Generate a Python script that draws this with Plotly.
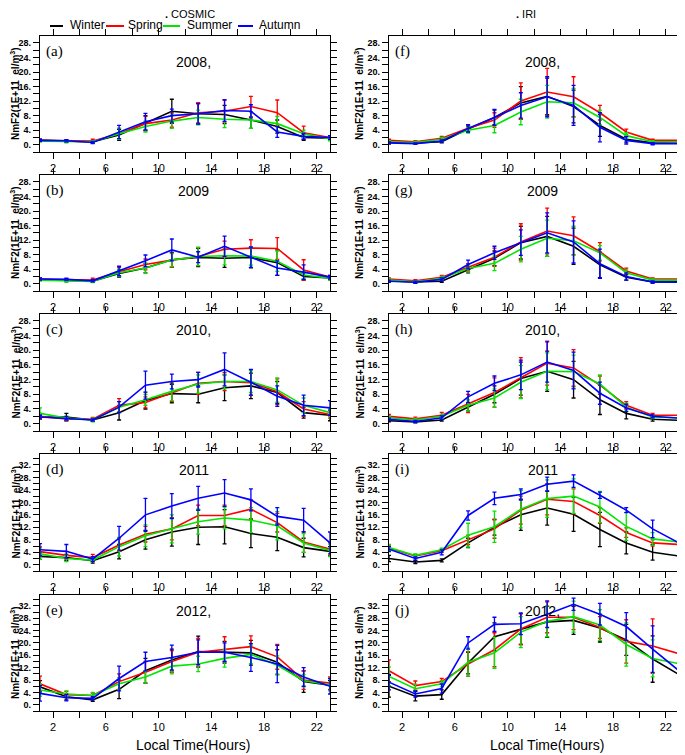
"""NmF2 diurnal variation by season, COSMIC vs IRI, 2008-2012"""

import plotly.graph_objects as go

hours = [1, 3, 5, 7, 9, 11, 13, 15, 17, 19, 21, 23]
seasons = ['Winter', 'Spring', 'Summer', 'Autumn']
colors = ['#000000', '#ff0000', '#00e600', '#0000ff']
panel_letters = ['(a)', '(b)', '(c)', '(d)', '(e)', '(f)', '(g)', '(h)', '(i)', '(j)']
year_labels = ['2008,', '2009', '2010,', '2011', '2012,', '2008,', '2009', '2010,', '2011', '2012,']

# ---- COSMIC ----
# (a) 2008
a_win = [1.2, 1.0, 0.8, 2.7, 6.0, 9.2, 8.5, 8.3, 6.8, 5.0, 2.0, 1.8]
a_spr = [1.2, 1.0, 1.0, 3.0, 5.8, 6.8, 8.8, 9.2, 10.5, 8.8, 3.3, 2.0]
a_sum = [1.0, 0.8, 0.8, 3.0, 5.0, 6.5, 7.5, 7.0, 6.8, 5.8, 3.0, 1.6]
a_aut = [1.2, 1.1, 0.6, 3.5, 6.3, 8.0, 8.5, 9.4, 9.2, 3.5, 2.3, 2.0]
a_win_err = [0.3, 0.3, 0.3, 1.5, 2.0, 3.3, 2.8, 2.5, 2.3, 1.8, 0.8, 0.5]
a_spr_err = [0.3, 0.3, 0.5, 1.5, 2.0, 2.0, 2.8, 3.0, 2.8, 3.5, 1.8, 0.5]
a_sum_err = [0.3, 0.3, 0.3, 1.5, 1.5, 2.0, 2.0, 2.3, 2.3, 2.0, 1.0, 0.5]
a_aut_err = [0.3, 0.3, 0.3, 1.8, 2.3, 1.8, 2.8, 3.0, 1.8, 1.5, 0.8, 0.5]

# (b) 2009
b_win = [1.2, 1.0, 0.7, 2.8, 4.3, 6.6, 7.2, 7.0, 7.2, 5.8, 2.0, 1.6]
b_spr = [1.2, 1.0, 1.0, 3.3, 5.3, 6.5, 7.5, 9.5, 9.8, 9.7, 3.8, 1.8]
b_sum = [1.0, 0.7, 0.6, 3.0, 4.3, 6.5, 7.5, 7.7, 7.6, 6.2, 2.4, 1.5]
b_aut = [1.3, 1.2, 0.8, 3.5, 6.3, 9.3, 7.3, 10.3, 7.3, 4.3, 3.2, 1.8]
b_win_err = [0.3, 0.3, 0.3, 1.0, 1.3, 2.0, 2.5, 2.5, 2.8, 3.5, 1.0, 0.5]
b_spr_err = [0.3, 0.3, 0.5, 1.2, 1.5, 2.0, 2.5, 2.2, 2.3, 3.0, 2.8, 0.5]
b_sum_err = [0.3, 0.3, 0.3, 1.0, 1.3, 1.8, 2.5, 2.5, 2.5, 2.8, 1.0, 0.5]
b_aut_err = [0.3, 0.3, 0.3, 1.3, 1.6, 3.0, 1.5, 2.8, 2.8, 2.0, 2.0, 0.5]

# (c) 2010
c_win = [1.8, 1.8, 1.0, 3.0, 6.3, 8.2, 8.0, 9.8, 10.3, 8.5, 3.0, 2.3]
c_spr = [2.0, 1.3, 1.2, 5.0, 5.8, 8.5, 11.0, 11.5, 11.2, 8.7, 4.0, 2.5]
c_sum = [2.8, 1.5, 1.0, 4.5, 6.5, 8.8, 10.8, 11.5, 11.5, 9.2, 5.0, 3.0]
c_aut = [1.8, 1.5, 1.0, 4.5, 10.5, 11.5, 12.0, 14.8, 11.3, 7.5, 5.0, 4.3]
c_win_err = [0.5, 1.0, 0.3, 2.0, 2.3, 2.5, 2.3, 3.5, 3.5, 3.0, 1.5, 1.5]
c_spr_err = [0.8, 0.5, 0.5, 1.8, 1.5, 2.5, 3.0, 2.5, 3.5, 3.5, 2.0, 1.0]
c_sum_err = [1.5, 0.5, 0.5, 1.5, 1.5, 2.5, 2.5, 2.0, 3.0, 3.3, 2.0, 1.0]
c_aut_err = [0.5, 0.5, 0.3, 1.5, 3.8, 2.0, 2.0, 4.5, 3.5, 2.8, 2.8, 2.0]

# (d) 2011
d_win = [2.7, 2.3, 1.3, 4.2, 8.0, 10.5, 12.0, 12.2, 10.0, 8.8, 5.5, 4.3]
d_spr = [4.2, 3.0, 2.3, 6.3, 9.8, 11.5, 15.8, 15.8, 17.8, 13.5, 7.3, 5.0]
d_sum = [3.5, 2.0, 1.5, 5.8, 9.3, 11.5, 13.8, 15.0, 14.3, 12.5, 7.0, 4.6]
d_aut = [4.8, 4.3, 1.8, 8.5, 16.0, 18.8, 21.3, 23.0, 20.8, 15.5, 14.3, 7.0]
d_win_err = [1.0, 1.0, 0.8, 2.3, 3.0, 4.5, 5.5, 5.5, 4.5, 4.3, 3.0, 1.5]
d_spr_err = [1.5, 1.3, 1.0, 2.0, 2.5, 3.5, 3.3, 3.3, 3.0, 3.0, 3.3, 2.0]
d_sum_err = [1.8, 1.0, 0.5, 3.0, 3.5, 4.5, 4.0, 3.5, 4.0, 4.5, 3.0, 2.0]
d_aut_err = [2.0, 2.2, 0.8, 3.8, 5.3, 4.0, 3.8, 4.3, 3.5, 2.8, 3.8, 3.5]

# (e) 2012
e_win = [5.8, 2.6, 1.6, 5.0, 11.0, 14.5, 17.2, 17.0, 16.8, 13.8, 7.5, 6.3]
e_spr = [6.8, 3.3, 3.0, 7.5, 10.5, 14.0, 17.0, 18.0, 18.8, 15.5, 8.0, 7.0]
e_sum = [4.8, 3.5, 3.0, 6.8, 9.0, 12.5, 13.2, 15.0, 16.3, 12.8, 7.8, 6.5]
e_aut = [3.7, 2.3, 2.1, 8.5, 14.0, 15.3, 17.0, 17.0, 15.3, 13.2, 9.0, 6.0]
e_win_err = [2.0, 1.0, 0.5, 3.0, 4.0, 3.5, 5.0, 3.5, 4.0, 4.0, 3.5, 1.5]
e_spr_err = [2.5, 1.0, 0.8, 2.5, 3.5, 3.5, 4.5, 4.0, 3.5, 4.0, 3.0, 2.0]
e_sum_err = [2.0, 1.0, 1.0, 2.0, 2.0, 2.5, 2.5, 2.8, 3.0, 3.0, 2.0, 2.0]
e_aut_err = [2.5, 1.0, 0.5, 4.0, 3.0, 4.0, 4.0, 3.0, 4.5, 6.0, 3.0, 2.5]

# ---- IRI ----
# (f) 2008
f_win = [0.6, 0.5, 0.8, 4.3, 7.5, 11.5, 13.3, 10.5, 5.3, 1.5, 0.5, 0.4]
f_spr = [1.2, 0.8, 1.8, 4.5, 6.8, 12.0, 14.5, 13.2, 8.8, 3.5, 1.2, 1.2]
f_sum = [0.8, 0.6, 1.5, 4.0, 5.3, 9.0, 11.8, 11.5, 7.5, 2.5, 0.8, 0.8]
f_aut = [0.5, 0.3, 1.0, 4.5, 7.5, 10.8, 13.2, 10.8, 4.8, 1.2, 0.3, 0.3]
f_win_err = [0.3, 0.2, 0.3, 0.8, 2.0, 4.5, 5.0, 4.5, 3.0, 0.8, 0.3, 0.2]
f_spr_err = [0.3, 0.3, 0.5, 0.8, 2.0, 5.0, 6.5, 5.5, 2.0, 0.8, 0.3, 0.3]
f_sum_err = [0.3, 0.3, 0.5, 0.8, 2.0, 3.5, 4.5, 4.0, 2.0, 0.8, 0.3, 0.3]
f_aut_err = [0.3, 0.2, 0.3, 1.0, 2.2, 3.5, 5.5, 5.5, 4.0, 1.0, 0.3, 0.2]

# (g) 2009
g_win = [0.8, 0.5, 0.7, 3.8, 7.0, 11.3, 13.0, 10.3, 5.2, 1.8, 0.5, 0.5]
g_spr = [1.3, 0.8, 1.8, 4.5, 7.3, 11.5, 14.5, 13.2, 8.8, 3.5, 1.3, 1.3]
g_sum = [1.0, 0.5, 1.5, 4.2, 5.6, 9.5, 12.5, 11.8, 8.5, 3.0, 1.0, 1.0]
g_aut = [0.7, 0.4, 1.2, 5.3, 8.5, 11.3, 14.0, 11.5, 5.5, 2.0, 0.5, 0.4]
g_win_err = [0.3, 0.3, 0.3, 0.8, 2.0, 4.5, 5.5, 5.0, 3.5, 0.8, 0.3, 0.3]
g_spr_err = [0.3, 0.3, 0.5, 1.0, 2.5, 5.0, 6.3, 5.2, 2.5, 0.8, 0.3, 0.3]
g_sum_err = [0.3, 0.3, 0.5, 1.0, 2.0, 3.5, 5.0, 4.0, 2.0, 0.8, 0.3, 0.3]
g_aut_err = [0.3, 0.3, 0.4, 1.2, 1.8, 3.5, 5.5, 5.8, 4.0, 1.0, 0.3, 0.3]

# (h) 2010
h_win = [0.8, 0.5, 1.0, 4.5, 8.0, 12.3, 14.3, 12.0, 6.5, 2.8, 1.2, 0.9]
h_spr = [2.0, 1.3, 2.3, 5.5, 8.5, 12.5, 16.5, 15.2, 10.5, 5.0, 2.3, 2.3]
h_sum = [1.6, 1.0, 2.0, 5.0, 7.0, 11.3, 14.3, 14.2, 10.8, 4.5, 1.8, 1.6]
h_aut = [1.2, 0.6, 1.6, 7.3, 11.0, 13.3, 16.8, 14.5, 8.3, 4.3, 2.0, 1.5]
h_win_err = [0.3, 0.3, 0.3, 1.0, 2.3, 4.5, 5.5, 5.0, 4.0, 1.5, 0.5, 0.3]
h_spr_err = [0.5, 0.5, 0.8, 2.5, 4.0, 5.5, 6.0, 5.0, 2.5, 1.0, 0.5, 0.5]
h_sum_err = [0.4, 0.4, 0.6, 1.5, 2.5, 4.5, 5.0, 4.5, 2.5, 1.0, 0.4, 0.4]
h_aut_err = [0.3, 0.3, 0.5, 1.5, 2.0, 4.0, 5.5, 5.0, 3.0, 1.0, 0.4, 0.3]

# (i) 2011
i_win = [2.0, 0.9, 1.4, 7.0, 12.0, 16.0, 18.2, 16.2, 11.3, 7.0, 4.0, 2.8]
i_spr = [5.3, 2.8, 4.5, 8.0, 11.5, 17.5, 21.0, 20.3, 15.8, 10.3, 7.0, 6.5]
i_sum = [5.5, 3.0, 4.8, 9.5, 12.2, 17.8, 21.2, 22.0, 18.5, 12.3, 8.3, 7.3]
i_aut = [5.0, 2.0, 4.0, 15.8, 21.3, 22.5, 25.8, 26.8, 22.3, 17.5, 11.5, 7.0]
i_win_err = [1.0, 0.5, 0.5, 1.5, 2.5, 5.0, 5.5, 5.5, 5.5, 3.5, 2.5, 1.0]
i_spr_err = [1.0, 0.5, 0.5, 1.5, 3.0, 4.5, 5.0, 4.0, 2.5, 1.5, 1.0, 1.0]
i_sum_err = [1.0, 0.5, 0.5, 3.8, 5.0, 6.0, 6.0, 5.5, 5.0, 4.5, 2.0, 2.0]
i_aut_err = [0.8, 0.5, 0.8, 1.5, 2.0, 1.8, 2.3, 2.0, 1.0, 0.8, 2.8, 2.5]

# (j) 2012
j_win = [6.0, 2.8, 3.3, 13.5, 22.0, 24.5, 26.8, 27.3, 24.8, 21.0, 14.8, 9.8]
j_spr = [11.0, 6.2, 7.5, 13.2, 17.8, 24.5, 28.3, 28.3, 25.0, 20.5, 19.0, 16.5]
j_sum = [9.2, 5.2, 6.8, 13.8, 16.8, 23.5, 27.0, 28.5, 25.8, 19.5, 15.0, 13.3]
j_aut = [7.3, 3.5, 5.3, 20.0, 26.0, 26.2, 29.3, 32.5, 29.3, 25.3, 18.0, 11.0]
j_win_err = [3.5, 1.5, 1.5, 3.5, 4.5, 5.0, 5.0, 4.5, 4.5, 5.0, 7.5, 6.5]
j_spr_err = [3.5, 1.5, 1.0, 4.0, 5.5, 5.0, 5.0, 4.0, 3.5, 7.0, 8.8, 7.0]
j_sum_err = [3.0, 1.5, 1.0, 4.5, 5.0, 5.0, 5.0, 5.0, 5.0, 7.0, 6.0, 5.0]
j_aut_err = [2.5, 1.0, 1.5, 2.0, 2.3, 3.5, 4.3, 2.0, 3.5, 4.5, 7.5, 6.0]

panels = [
    ([a_win, a_spr, a_sum, a_aut], [a_win_err, a_spr_err, a_sum_err, a_aut_err]),
    ([b_win, b_spr, b_sum, b_aut], [b_win_err, b_spr_err, b_sum_err, b_aut_err]),
    ([c_win, c_spr, c_sum, c_aut], [c_win_err, c_spr_err, c_sum_err, c_aut_err]),
    ([d_win, d_spr, d_sum, d_aut], [d_win_err, d_spr_err, d_sum_err, d_aut_err]),
    ([e_win, e_spr, e_sum, e_aut], [e_win_err, e_spr_err, e_sum_err, e_aut_err]),
    ([f_win, f_spr, f_sum, f_aut], [f_win_err, f_spr_err, f_sum_err, f_aut_err]),
    ([g_win, g_spr, g_sum, g_aut], [g_win_err, g_spr_err, g_sum_err, g_aut_err]),
    ([h_win, h_spr, h_sum, h_aut], [h_win_err, h_spr_err, h_sum_err, h_aut_err]),
    ([i_win, i_spr, i_sum, i_aut], [i_win_err, i_spr_err, i_sum_err, i_aut_err]),
    ([j_win, j_spr, j_sum, j_aut], [j_win_err, j_spr_err, j_sum_err, j_aut_err]),
]

# the page body has an 8px margin, so the figure is 8px smaller and every
# pixel position below is given in window pixels and shifted back by OFF
OFF = 8
W, H = 685 - OFF, 755 - OFF


def px(x):
    return (x - OFF) / W


def py(y):
    return 1 - (y - OFF) / H


# pixel boxes (window coords) of the plot areas: (top, bottom) per row, (left, right) per column
rows_px = [(36, 152), (175, 291), (314, 431), (454, 571), (595, 711)]
cols_px = [(40, 330), (389, 679)]

SANS = 'Liberation Sans, Arial, sans-serif'
SERIF = 'Liberation Serif, Times New Roman, serif'

fig = go.Figure()
layout = dict(
    width=W, height=H,
    margin=dict(l=0, r=0, t=0, b=0),
    paper_bgcolor='white', plot_bgcolor='white',
    showlegend=False,
    font=dict(family=SANS, color='black'),
)
annotations = []
shapes = []

for k in range(10):
    col = k // 5
    row = k % 5
    ax = '' if k == 0 else str(k + 1)
    series, errs = panels[k]
    for s in range(4):
        fig.add_trace(go.Scatter(
            x=hours, y=series[s],
            mode='lines',
            line=dict(color=colors[s], width=1.6),
            error_y=dict(type='data', array=errs[s], color=colors[s], thickness=1.3, width=2),
            name=seasons[s],
            xaxis='x' + ax, yaxis='y' + ax,
        ))

    top, bot = rows_px[row]
    left, right = cols_px[col]
    ymax = 29.9 if row < 3 else 35.5

    layout['xaxis' + ax] = dict(
        domain=[px(left), px(right)], anchor='y' + ax,
        range=[1, 23], tick0=2, dtick=4,
        ticks='outside', ticklen=6, tickwidth=1, tickcolor='black',
        minor=dict(dtick=2, tick0=2, ticks='outside', ticklen=6, tickwidth=1, tickcolor='black'),
        showline=True, linecolor='black', linewidth=1.2, mirror='ticks',
        showgrid=False, zeroline=False,
        tickfont=dict(size=11, family=SANS, color='black'),
    )
    layout['yaxis' + ax] = dict(
        domain=[py(bot), py(top)], anchor='x' + ax,
        range=[-2, ymax], tick0=0, dtick=4, ticksuffix='.',
        ticks='outside', ticklen=6, tickwidth=1, tickcolor='black',
        minor=dict(dtick=2, tick0=0, ticks='outside', ticklen=6, tickwidth=1, tickcolor='black'),
        showline=True, linecolor='black', linewidth=1.2, mirror='ticks',
        showgrid=False, zeroline=False,
        tickfont=dict(size=9, family=SANS, color='black', weight='bold'),
    )
    # panel letter
    annotations.append(dict(
        text=panel_letters[k], xref='x' + ax + ' domain', yref='y' + ax + ' domain',
        x=0.015, y=0.96, xanchor='left', yanchor='top', showarrow=False,
        font=dict(size=15, family=SERIF, color='black'),
    ))
    # year label
    year_y = 0.78 if row == 0 else 0.86
    annotations.append(dict(
        text=year_labels[k], xref='x' + ax + ' domain', yref='y' + ax + ' domain',
        x=0.53, y=year_y, xanchor='center', yanchor='middle', showarrow=False,
        font=dict(size=14, family=SANS, color='black'),
    ))
    # y-axis title
    ytitle_x = 15 if col == 0 else 359
    annotations.append(dict(
        text='NmF2(1E+11  el/m<sup>3</sup>)', xref='paper', yref='y' + ax + ' domain',
        x=px(ytitle_x), y=0.5, xanchor='center', yanchor='middle', textangle=-90,
        showarrow=False, font=dict(size=10, family=SANS, color='black', weight='bold'),
    ))

# column titles and x titles
annotations.append(dict(text='<b>.</b> COSMIC', xref='paper', yref='paper', x=px(190), y=py(14),
                        xanchor='center', yanchor='middle', showarrow=False,
                        font=dict(size=11, family=SANS, color='black')))
annotations.append(dict(text='<b>.</b> IRI', xref='paper', yref='paper', x=px(526), y=py(14),
                        xanchor='center', yanchor='middle', showarrow=False,
                        font=dict(size=11, family=SANS, color='black')))
for xc in (193, 547):
    annotations.append(dict(text='Local Time(Hours)', xref='paper', yref='paper', x=px(xc), y=py(745),
                            xanchor='center', yanchor='middle', showarrow=False,
                            font=dict(size=14, family=SANS, color='black')))

# hand-drawn legend above the COSMIC column
legend_lines = [(50, 63), (106, 124), (163, 180), (238, 253)]
legend_text_x = [68, 126, 185, 257]
for s in range(4):
    x0, x1 = legend_lines[s]
    shapes.append(dict(type='line', xref='paper', yref='paper',
                       x0=px(x0), x1=px(x1), y0=py(26), y1=py(26),
                       line=dict(color=colors[s], width=2)))
    annotations.append(dict(text=seasons[s], xref='paper', yref='paper',
                            x=px(legend_text_x[s]), y=py(25), xanchor='left', yanchor='middle',
                            showarrow=False, font=dict(size=12, family=SANS, color='black')))

layout['annotations'] = annotations
layout['shapes'] = shapes
fig.update_layout(**layout)

fig.write_html("out.html")
